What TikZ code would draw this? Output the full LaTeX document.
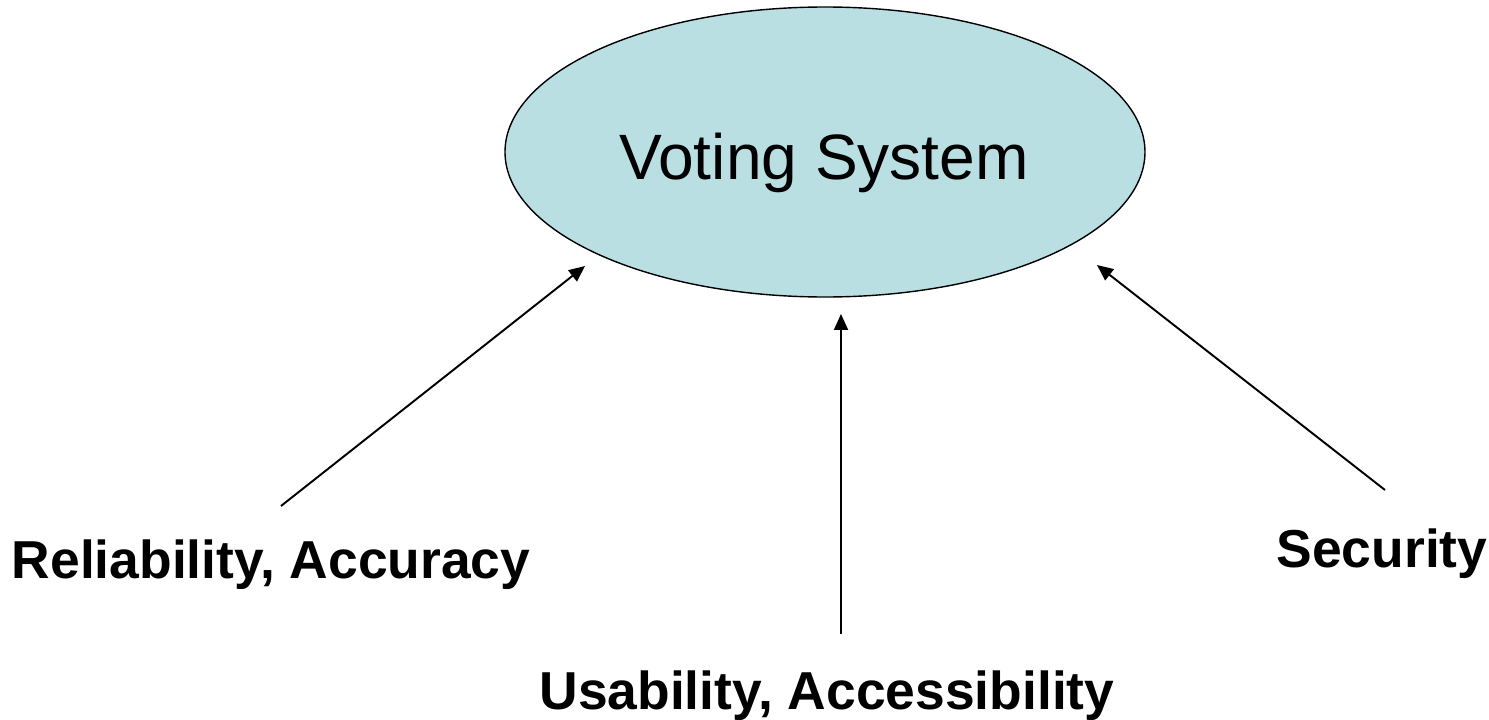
\documentclass[tikz,border=0pt]{standalone}
\usepackage{fontspec}
\setmainfont{Liberation Sans}
\usetikzlibrary{arrows.meta,shapes.geometric}
\definecolor{ellfill}{RGB}{185,223,227}
\tikzset{
  ell/.style={ellipse, draw=black, line width=0.8pt, fill=ellfill, minimum width=640*0.02cm, minimum height=290*0.02cm, inner sep=0pt},
  title/.style={anchor=base, inner sep=0pt, font=\fontsize{36.5}{40}\selectfont},
  lbl/.style={anchor=base, inner sep=0pt, font=\bfseries\fontsize{30.4}{34}\selectfont},
  conn/.style={line width=1.1pt, -{Triangle[length=0.32cm,width=0.28cm]}}
}
\begin{document}
\begin{tikzpicture}[x=0.02cm,y=-0.02cm]
\useasboundingbox (0,0) rectangle (1489,720);
\node[ell] (vs) at (825,152) {};
\node[title] (vst) at (824,179) {Voting System};
\node[lbl] (rel) at (271,578) {Reliability, Accuracy};
\node[lbl] (sec) at (1382,567) {Security};
\node[lbl] (usa) at (827,709) {Usability, Accessibility};
\coordinate (t1) at (281,506);
\coordinate (h1) at (585,266);
\coordinate (t2) at (841,634);
\coordinate (h2) at (841,314);
\coordinate (t3) at (1385,490);
\coordinate (h3) at (1097,265);
\draw[conn] (t1) -- (h1);
\draw[conn] (t2) -- (h2);
\draw[conn] (t3) -- (h3);
\end{tikzpicture}
\end{document}
